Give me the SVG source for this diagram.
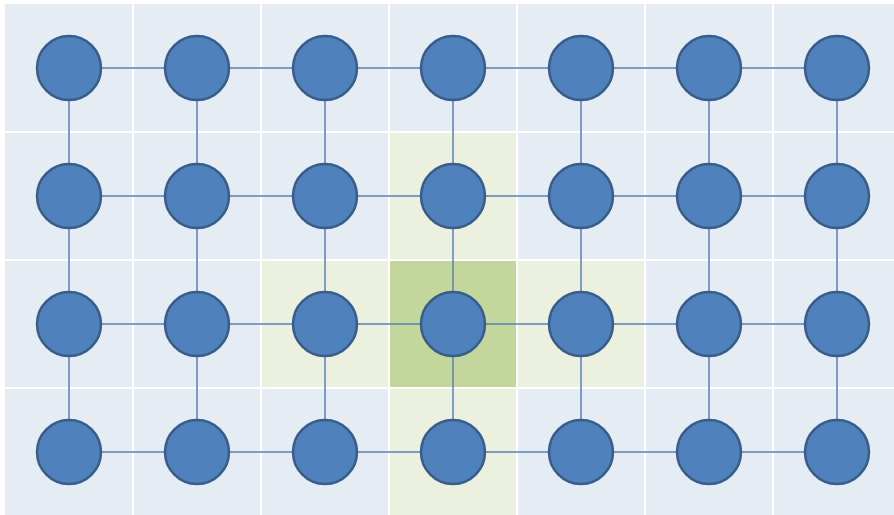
<svg xmlns="http://www.w3.org/2000/svg" width="894" height="515" viewBox="0 0 894 515">
<style>
.c{fill:#e6ecf3}
.lg{fill:#ebf1de}
.dg{fill:#c3d69b}
.e{stroke:#5a82b4;stroke-width:1.5;fill:none}
.n{fill:#4f81bd;stroke:#385d8a;stroke-width:2.5}
</style>
<rect width="894" height="515" fill="#ffffff"/>
<g id="cells">
<rect class="c" x="5" y="4" width="127" height="127"/><rect class="c" x="134" y="4" width="126" height="127"/><rect class="c" x="262" y="4" width="126" height="127"/><rect class="c" x="390" y="4" width="126" height="127"/><rect class="c" x="518" y="4" width="126" height="127"/><rect class="c" x="646" y="4" width="126" height="127"/><rect class="c" x="774" y="4" width="120" height="127"/>
<rect class="c" x="5" y="133" width="127" height="126"/><rect class="c" x="134" y="133" width="126" height="126"/><rect class="c" x="262" y="133" width="126" height="126"/><rect class="lg" x="390" y="133" width="126" height="126"/><rect class="c" x="518" y="133" width="126" height="126"/><rect class="c" x="646" y="133" width="126" height="126"/><rect class="c" x="774" y="133" width="120" height="126"/>
<rect class="c" x="5" y="261" width="127" height="126"/><rect class="c" x="134" y="261" width="126" height="126"/><rect class="lg" x="262" y="261" width="126" height="126"/><rect class="dg" x="390" y="261" width="126" height="126"/><rect class="lg" x="518" y="261" width="126" height="126"/><rect class="c" x="646" y="261" width="126" height="126"/><rect class="c" x="774" y="261" width="120" height="126"/>
<rect class="c" x="5" y="389" width="127" height="126"/><rect class="c" x="134" y="389" width="126" height="126"/><rect class="c" x="262" y="389" width="126" height="126"/><rect class="lg" x="390" y="389" width="126" height="126"/><rect class="c" x="518" y="389" width="126" height="126"/><rect class="c" x="646" y="389" width="126" height="126"/><rect class="c" x="774" y="389" width="120" height="126"/>
</g>
<g id="connectors">
<line class="e" x1="69" y1="68" x2="837" y2="68"/>
<line class="e" x1="69" y1="196" x2="837" y2="196"/>
<line class="e" x1="69" y1="324" x2="837" y2="324"/>
<line class="e" x1="69" y1="452" x2="837" y2="452"/>
<line class="e" x1="69" y1="68" x2="69" y2="452"/>
<line class="e" x1="197" y1="68" x2="197" y2="452"/>
<line class="e" x1="325" y1="68" x2="325" y2="452"/>
<line class="e" x1="453" y1="68" x2="453" y2="452"/>
<line class="e" x1="581" y1="68" x2="581" y2="452"/>
<line class="e" x1="709" y1="68" x2="709" y2="452"/>
<line class="e" x1="837" y1="68" x2="837" y2="452"/>
</g>
<g id="n-0-0"><circle class="n" cx="69" cy="68" r="32"/></g>
<g id="n-0-1"><circle class="n" cx="197" cy="68" r="32"/></g>
<g id="n-0-2"><circle class="n" cx="325" cy="68" r="32"/></g>
<g id="n-0-3"><circle class="n" cx="453" cy="68" r="32"/></g>
<g id="n-0-4"><circle class="n" cx="581" cy="68" r="32"/></g>
<g id="n-0-5"><circle class="n" cx="709" cy="68" r="32"/></g>
<g id="n-0-6"><circle class="n" cx="837" cy="68" r="32"/></g>
<g id="n-1-0"><circle class="n" cx="69" cy="196" r="32"/></g>
<g id="n-1-1"><circle class="n" cx="197" cy="196" r="32"/></g>
<g id="n-1-2"><circle class="n" cx="325" cy="196" r="32"/></g>
<g id="n-1-3"><circle class="n" cx="453" cy="196" r="32"/></g>
<g id="n-1-4"><circle class="n" cx="581" cy="196" r="32"/></g>
<g id="n-1-5"><circle class="n" cx="709" cy="196" r="32"/></g>
<g id="n-1-6"><circle class="n" cx="837" cy="196" r="32"/></g>
<g id="n-2-0"><circle class="n" cx="69" cy="324" r="32"/></g>
<g id="n-2-1"><circle class="n" cx="197" cy="324" r="32"/></g>
<g id="n-2-2"><circle class="n" cx="325" cy="324" r="32"/></g>
<g id="n-2-3"><circle class="n" cx="453" cy="324" r="32"/></g>
<g id="n-2-4"><circle class="n" cx="581" cy="324" r="32"/></g>
<g id="n-2-5"><circle class="n" cx="709" cy="324" r="32"/></g>
<g id="n-2-6"><circle class="n" cx="837" cy="324" r="32"/></g>
<g id="n-3-0"><circle class="n" cx="69" cy="452" r="32"/></g>
<g id="n-3-1"><circle class="n" cx="197" cy="452" r="32"/></g>
<g id="n-3-2"><circle class="n" cx="325" cy="452" r="32"/></g>
<g id="n-3-3"><circle class="n" cx="453" cy="452" r="32"/></g>
<g id="n-3-4"><circle class="n" cx="581" cy="452" r="32"/></g>
<g id="n-3-5"><circle class="n" cx="709" cy="452" r="32"/></g>
<g id="n-3-6"><circle class="n" cx="837" cy="452" r="32"/></g>
</svg>
